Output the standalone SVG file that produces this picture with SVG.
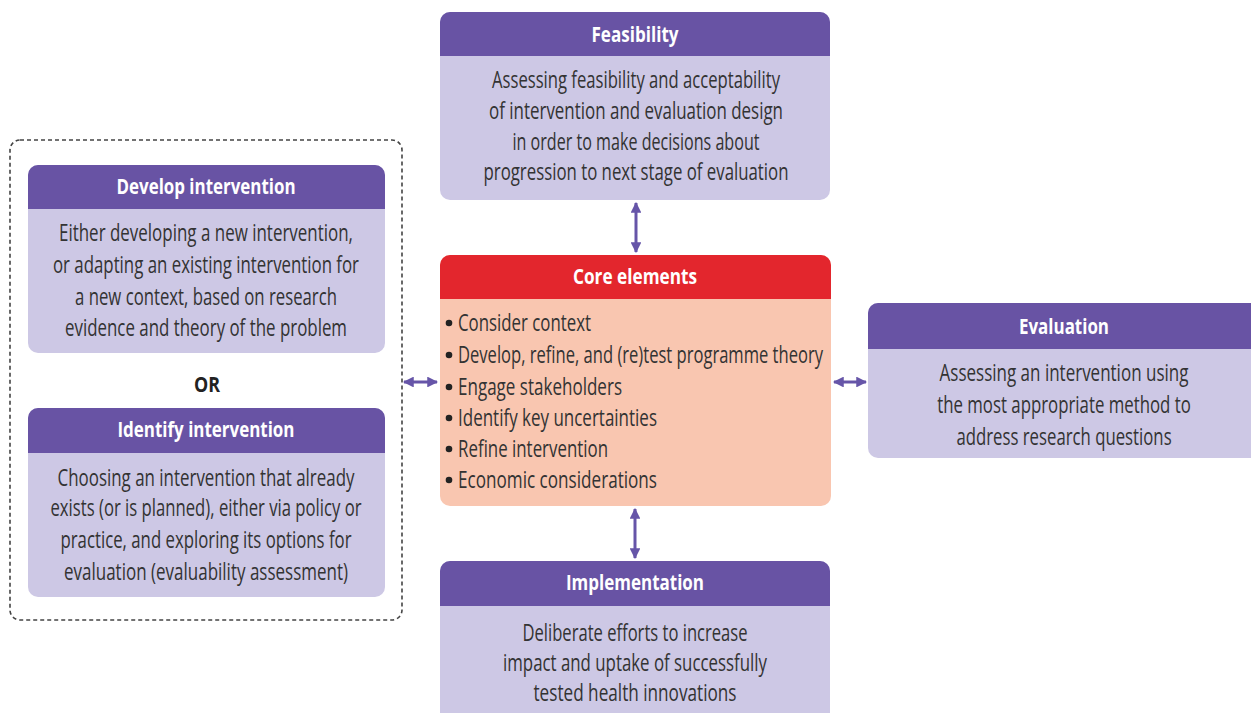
<svg xmlns="http://www.w3.org/2000/svg" width="1251" height="713" viewBox="0 0 1251 713">
<defs>
<style>
.body{fill:#cdc8e5}
.head{fill:#6853a4}
.chead{fill:#e3262d}
.cbody{fill:#f9c6b0}
.t{font-family:"Open Sans","Liberation Sans",sans-serif;font-size:23px;fill:#333;text-anchor:middle}
.h{font-family:"Open Sans","Liberation Sans",sans-serif;font-size:21px;font-weight:bold;fill:#fff;text-anchor:middle}
.l{font-family:"Open Sans","Liberation Sans",sans-serif;font-size:23px;fill:#333}
.conn{stroke:#6655a8;stroke-width:3;fill:none}
</style>
<marker id="ah" viewBox="0 0 10 10" refX="9" refY="5" markerWidth="3.6" markerHeight="3.6" orient="auto-start-reverse" markerUnits="strokeWidth">
<path d="M0,0 L10,5 L0,10 z" fill="#6655a8"/>
</marker>
</defs>
<rect width="1251" height="713" fill="#fff"/>

<rect id="group-box" x="10" y="140" width="392" height="480" rx="10" fill="none" stroke="#444" stroke-width="1.6" stroke-dasharray="4 3"/>

<g id="feasibility">
<rect class="body" x="440" y="12" width="390" height="188" rx="10"/>
<path class="head" d="M440,56 V22 a10,10 0 0 1 10,-10 H820 a10,10 0 0 1 10,10 V56 z"/>
<text class="h" x="635" y="42" textLength="87" lengthAdjust="spacingAndGlyphs">Feasibility</text>
<text class="t" x="636" y="88" textLength="288" lengthAdjust="spacingAndGlyphs">Assessing feasibility and acceptability</text>
<text class="t" x="636" y="119" textLength="294" lengthAdjust="spacingAndGlyphs">of intervention and evaluation design</text>
<text class="t" x="636" y="150" textLength="247" lengthAdjust="spacingAndGlyphs">in order to make decisions about</text>
<text class="t" x="636" y="180" textLength="305" lengthAdjust="spacingAndGlyphs">progression to next stage of evaluation</text>
</g>

<g id="develop">
<rect class="body" x="28" y="165" width="357" height="188" rx="10"/>
<path class="head" d="M28,209 V175 a10,10 0 0 1 10,-10 H375 a10,10 0 0 1 10,10 V209 z"/>
<text class="h" x="206" y="194" textLength="179" lengthAdjust="spacingAndGlyphs">Develop intervention</text>
<text class="t" x="206" y="241" textLength="294" lengthAdjust="spacingAndGlyphs">Either developing a new intervention,</text>
<text class="t" x="206" y="273" textLength="306" lengthAdjust="spacingAndGlyphs">or adapting an existing intervention for</text>
<text class="t" x="206" y="305" textLength="262" lengthAdjust="spacingAndGlyphs">a new context, based on research</text>
<text class="t" x="206" y="336" textLength="282" lengthAdjust="spacingAndGlyphs">evidence and theory of the problem</text>
</g>

<text id="or" x="207" y="392" font-family="'Open Sans','Liberation Sans',sans-serif" font-size="21" font-weight="bold" fill="#222" text-anchor="middle" textLength="26" lengthAdjust="spacingAndGlyphs">OR</text>

<g id="identify">
<rect class="body" x="28" y="408" width="357" height="189" rx="10"/>
<path class="head" d="M28,453 V418 a10,10 0 0 1 10,-10 H375 a10,10 0 0 1 10,10 V453 z"/>
<text class="h" x="206" y="437" textLength="177" lengthAdjust="spacingAndGlyphs">Identify intervention</text>
<text class="t" x="206" y="486" textLength="297" lengthAdjust="spacingAndGlyphs">Choosing an intervention that already</text>
<text class="t" x="206" y="516" textLength="311" lengthAdjust="spacingAndGlyphs">exists (or is planned), either via policy or</text>
<text class="t" x="206" y="548" textLength="291" lengthAdjust="spacingAndGlyphs">practice, and exploring its options for</text>
<text class="t" x="206" y="580" textLength="284" lengthAdjust="spacingAndGlyphs">evaluation (evaluability assessment)</text>
</g>

<g id="core">
<rect class="cbody" x="440" y="255" width="391" height="251" rx="10"/>
<path class="chead" d="M440,299 V265 a10,10 0 0 1 10,-10 H821 a10,10 0 0 1 10,10 V299 z"/>
<text class="h" x="635" y="284" textLength="124" lengthAdjust="spacingAndGlyphs">Core elements</text>
<g fill="#222">
<circle cx="449" cy="323" r="3.3"/>
<circle cx="449" cy="355" r="3.3"/>
<circle cx="449" cy="387" r="3.3"/>
<circle cx="449" cy="418" r="3.3"/>
<circle cx="449" cy="449" r="3.3"/>
<circle cx="449" cy="480" r="3.3"/>
</g>
<text class="l" x="458" y="331" textLength="133" lengthAdjust="spacingAndGlyphs">Consider context</text>
<text class="l" x="458" y="363" textLength="365" lengthAdjust="spacingAndGlyphs">Develop, refine, and (re)test programme theory</text>
<text class="l" x="458" y="395" textLength="164" lengthAdjust="spacingAndGlyphs">Engage stakeholders</text>
<text class="l" x="458" y="426" textLength="199" lengthAdjust="spacingAndGlyphs">Identify key uncertainties</text>
<text class="l" x="458" y="457" textLength="150" lengthAdjust="spacingAndGlyphs">Refine intervention</text>
<text class="l" x="458" y="488" textLength="199" lengthAdjust="spacingAndGlyphs">Economic considerations</text>
</g>

<g id="evaluation">
<path class="body" d="M878,303 H1251 V458 H878 a10,10 0 0 1 -10,-10 V313 a10,10 0 0 1 10,-10 z"/>
<path class="head" d="M868,349 V313 a10,10 0 0 1 10,-10 H1251 V349 z"/>
<text class="h" x="1064" y="334" textLength="90" lengthAdjust="spacingAndGlyphs">Evaluation</text>
<text class="t" transform="translate(1064 0) scale(0.8 1)" x="0" y="381" textLength="311" lengthAdjust="spacingAndGlyphs">Assessing an intervention using</text>
<text class="t" transform="translate(1064 0) scale(0.8 1)" x="0" y="413" textLength="317" lengthAdjust="spacingAndGlyphs">the most appropriate method to</text>
<text class="t" transform="translate(1064 0) scale(0.8 1)" x="0" y="445" textLength="269" lengthAdjust="spacingAndGlyphs">address research questions</text>
</g>

<g id="implementation">
<path class="body" d="M440,713 V571 a10,10 0 0 1 10,-10 H820 a10,10 0 0 1 10,10 V713 z"/>
<path class="head" d="M440,606 V571 a10,10 0 0 1 10,-10 H820 a10,10 0 0 1 10,10 V606 z"/>
<text class="h" x="635" y="590" textLength="138" lengthAdjust="spacingAndGlyphs">Implementation</text>
<text class="t" x="635" y="641" textLength="225" lengthAdjust="spacingAndGlyphs">Deliberate efforts to increase</text>
<text class="t" x="635" y="671" textLength="264" lengthAdjust="spacingAndGlyphs">impact and uptake of successfully</text>
<text class="t" x="635" y="701" textLength="203" lengthAdjust="spacingAndGlyphs">tested health innovations</text>
</g>

<g id="connectors">
<line class="conn" x1="636" y1="203" x2="636" y2="252" marker-start="url(#ah)" marker-end="url(#ah)"/>
<line class="conn" x1="635" y1="509" x2="635" y2="558" marker-start="url(#ah)" marker-end="url(#ah)"/>
<line class="conn" x1="404" y1="382" x2="437" y2="382" marker-start="url(#ah)" marker-end="url(#ah)"/>
<line class="conn" x1="834" y1="382" x2="866" y2="382" marker-start="url(#ah)" marker-end="url(#ah)"/>
</g>
</svg>
